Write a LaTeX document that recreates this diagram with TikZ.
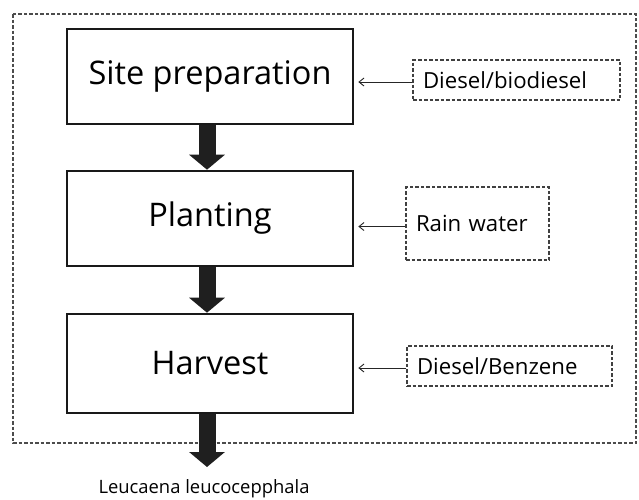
\documentclass[tikz,border=0pt]{standalone}
\usepackage{fontspec}
\setmainfont{Open Sans}
\usetikzlibrary{arrows.meta}
\begin{document}
\begin{tikzpicture}[x=1pt,y=-1pt,
  stage/.style={draw=black!90, line width=2.6pt, fill=white, minimum width=286pt, font=\fontsize{32.5}{35}\selectfont, inner sep=0pt},
  inputbox/.style={draw=black!75, line width=1.1pt, dash pattern=on 3.5pt off 2pt, minimum height=40pt, inner xsep=10pt, align=left, font=\fontsize{22.2}{25}\selectfont},
  flowarrow/.style={line width=17pt, draw=black!88, -{Triangle[width=35pt,length=15pt]}},
  feed/.style={line width=0.9pt, draw=black!85, -{Straight Barb[length=5pt,width=8pt]}, shorten >=4pt},
  outline/.style={draw=black!70, line width=1.1pt, dash pattern=on 3.5pt off 2pt}
]
\useasboundingbox (0,0) rectangle (639,499);
\fill[white] (0,0) rectangle (639,499);
\draw[outline] (13,14) rectangle (636,443);

\node[stage, minimum height=95pt] (b1) at (210,76.5) {Site preparation};
\node[stage, minimum height=95pt] (b2) at (210,218.5) {Planting};
\node[stage, minimum height=99pt] (b3) at (210,363.5) {Harvest};

\node[inputbox, text width=187pt] (i1) at (516.5,80) {Diesel/biodiesel};
\node[inputbox, text width=123pt, minimum height=73pt] (i2) at (477.5,223.5) {Rain water};
\node[inputbox, text width=185pt] (i3) at (509.5,366) {Diesel/Benzene};

\coordinate (out) at (207,467);
\node[font=\fontsize{18.4}{21}\selectfont] (prod) at (204,489) {Leucaena leucocepphala};

\draw[flowarrow] ([xshift=-3pt]b1.south) -- ([xshift=-3pt]b2.north);
\draw[flowarrow] ([xshift=-3pt]b2.south) -- ([xshift=-3pt]b3.north);
\draw[flowarrow] ([xshift=-3pt]b3.south) -- (out);

\draw[feed] ([yshift=-2pt]i1.west) -- ([yshift=-2pt]i1.west -| b1.east);
\draw[feed] ([yshift=-3pt]i2.west) -- ([yshift=-3pt]i2.west -| b2.east);
\draw[feed] ([yshift=-2pt]i3.west) -- ([yshift=-2pt]i3.west -| b3.east);
\end{tikzpicture}
\end{document}
